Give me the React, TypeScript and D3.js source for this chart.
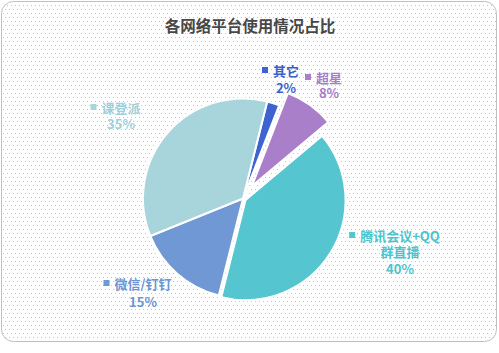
import { useRef, useEffect } from "react";
import * as d3 from "d3";

const categories = ["其它", "超星", "腾讯会议+QQ群直播", "微信/钉钉", "课登派"];
const shares = [2, 8, 40, 15, 35];
const labelLines = [["其它", "2%"], ["超星", "8%"], ["腾讯会议+QQ", "群直播", "40%"], ["微信/钉钉", "15%"], ["课登派", "35%"]];
const sliceColors = ["#3c63d0", "#a97fca", "#55c6cf", "#6f98d5", "#a8d4db"];
const labelColors = ["#3a5fc8", "#a57cc6", "#4fc3cc", "#6b95d2", "#9fd0da"];
// how far each slice is pulled out of the pie
const explode = [0, 15, 3, 0, 0];
// label block anchors (centre x, y of first line) and line spacing
const labelAnchor: [number, number][] = [[286, 70], [329, 77], [400, 235], [143, 283], [121, 107]];
const lineGap = [17, 15.5, 16.5, 18.5, 16];

export default function App() {
  const svgRef = useRef<SVGSVGElement>(null);

  useEffect(() => {
    if (!svgRef.current) return;
    const width = 499;
    const height = 353;
    const cx = 243;
    const cy = 198.5;
    const r = 100;

    const svg = d3.select(svgRef.current);
    svg.selectAll("*").remove();
    svg.attr("width", width).attr("height", height);

    const defs = svg.append("defs");
    const pat = defs
      .append("pattern")
      .attr("id", "dots")
      .attr("patternUnits", "userSpaceOnUse")
      .attr("width", 8)
      .attr("height", 8);
    pat.append("rect").attr("width", 8).attr("height", 8).attr("fill", "#fff");
    [[1, 1], [5, 1], [3, 5], [7, 5]].forEach(([x, y]) =>
      pat.append("rect").attr("x", x).attr("y", y).attr("width", 1).attr("height", 1).attr("fill", "#c4c4c4")
    );

    svg.append("rect").attr("width", width).attr("height", height).attr("fill", "#fff");
    svg
      .append("rect")
      .attr("x", 1.5)
      .attr("y", 1.5)
      .attr("width", 495)
      .attr("height", 340)
      .attr("rx", 12)
      .attr("fill", "url(#dots)")
      .attr("stroke", "#c0c0c0")
      .attr("stroke-width", 1);

    svg
      .append("text")
      .attr("x", 250)
      .attr("y", 25)
      .attr("text-anchor", "middle")
      .attr("dominant-baseline", "central")
      .style("font-family", "'Noto Sans CJK SC', sans-serif")
      .style("font-size", "15.5px")
      .style("font-weight", "700")
      .style("fill", "#474747")
      .text("各网络平台使用情况占比");

    const data = categories.map((c, i) => ({ name: c, value: shares[i], i }));
    const start = (14 * Math.PI) / 180;
    const pie = d3
      .pie<{ name: string; value: number; i: number }>()
      .sort(null)
      .value((d) => d.value)
      .startAngle(start)
      .endAngle(start + 2 * Math.PI);
    const arc = d3
      .arc<d3.PieArcDatum<{ name: string; value: number; i: number }>>()
      .innerRadius(0)
      .outerRadius(r);

    const g = svg.append("g").attr("transform", `translate(${cx},${cy})`);
    g.selectAll("path")
      .data(pie(data))
      .join("path")
      .attr("transform", (d) => {
        const a = (d.startAngle + d.endAngle) / 2;
        const e = explode[d.data.i];
        return `translate(${Math.sin(a) * e},${-Math.cos(a) * e})`;
      })
      .attr("d", arc)
      .attr("fill", (d) => sliceColors[d.data.i])
      .attr("stroke", "#fff")
      .attr("stroke-width", 2)
      .attr("stroke-linejoin", "round");

    const lab = svg
      .selectAll("g.lab")
      .data(data)
      .join("g")
      .attr("class", "lab")
      .attr("transform", (d) => `translate(${labelAnchor[d.i][0]},${labelAnchor[d.i][1]})`);

    lab.each(function (d) {
      const sel = d3.select(this);
      labelLines[d.i].forEach((ln, k) => {
        sel
          .append("text")
          .attr("x", 0)
          .attr("y", k * lineGap[d.i])
          .attr("text-anchor", "middle")
          .attr("dominant-baseline", "central")
          .style("font-family", "'Noto Sans CJK SC', sans-serif")
          .style("font-size", "13px")
          .style("font-weight", "700")
          .style("fill", labelColors[d.i])
          .text(ln);
      });
      const first = (sel.select("text").node() as SVGTextElement).getComputedTextLength();
      sel
        .append("rect")
        .attr("x", -first / 2 - 11)
        .attr("y", -3)
        .attr("width", 6)
        .attr("height", 6)
        .attr("fill", sliceColors[d.i]);
    });
  }, []);

  return <svg ref={svgRef} style={{ position: "absolute", left: 0, top: 0, display: "block" }} />;
}
